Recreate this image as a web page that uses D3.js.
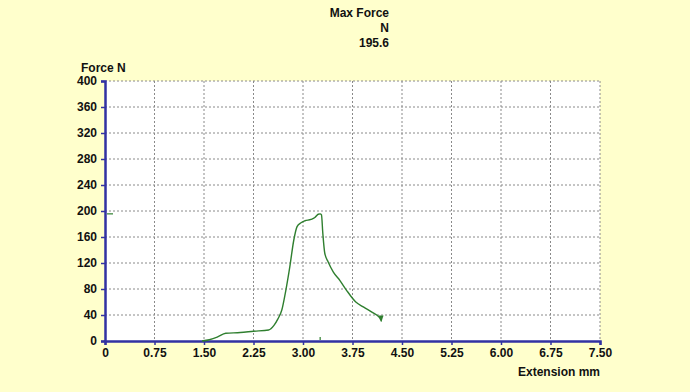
<!DOCTYPE html>
<html>
<head>
<meta charset="utf-8">
<script src="https://cdn.jsdelivr.net/npm/d3@7"></script>
<style>
  body { margin: 0; background: #ffffcc; }
  svg { display: block; }
  text { font-family: "Liberation Sans", Arial, sans-serif; font-weight: bold; font-size: 12px; fill: #111; }
</style>
</head>
<body>
<svg width="690" height="392"></svg>
<script>
// values
var extension = [1.47, 1.58, 1.70, 1.83, 2.05, 2.25, 2.48, 2.56, 2.62, 2.68, 2.74, 2.80, 2.86, 2.91, 2.97, 3.03, 3.12, 3.18, 3.23, 3.26, 3.28, 3.30, 3.33, 3.38, 3.46, 3.56, 3.66, 3.80, 3.92, 4.05, 4.16, 4.19];
var force = [0, 2, 6, 12, 13, 15, 17, 24, 34, 48, 78, 114, 155, 176, 182, 185, 187, 190, 195, 195.6, 194, 166, 135, 122, 106, 93, 78, 60, 52, 44, 36, 30];
var xTicks = [0, 0.75, 1.5, 2.25, 3, 3.75, 4.5, 5.25, 6, 6.75, 7.5];
var yTicks = [0, 40, 80, 120, 160, 200, 240, 280, 320, 360, 400];
var maxForce = 195.6;

var drawChart = function() {
  let svg = d3.select("svg");

  let margin = { top: 81, right: 90, bottom: 51, left: 105 };
  let plotWidth = 690 - margin.left - margin.right;
  let plotHeight = 392 - margin.top - margin.bottom;

  let xScale = d3.scaleLinear().domain([0, 7.5]).range([0, plotWidth]);
  let yScale = d3.scaleLinear().domain([0, 400]).range([plotHeight, 0]);

  let plot = svg.append("g")
    .attr("transform", "translate(" + margin.left + "," + margin.top + ")");

  // white plot area
  plot.append("rect")
    .attr("width", plotWidth)
    .attr("height", plotHeight)
    .attr("fill", "#ffffff");

  // dotted gridlines
  plot.append("g")
    .selectAll("line.vg")
    .data(xTicks.slice(1))
    .enter()
    .append("line")
    .attr("x1", d => xScale(d)).attr("x2", d => xScale(d))
    .attr("y1", 0).attr("y2", plotHeight)
    .attr("stroke", "#8a8a8a")
    .attr("stroke-dasharray", "2,2");

  plot.append("g")
    .selectAll("line.hg")
    .data(yTicks.slice(1))
    .enter()
    .append("line")
    .attr("x1", 0).attr("x2", plotWidth)
    .attr("y1", d => yScale(d)).attr("y2", d => yScale(d))
    .attr("stroke", "#8a8a8a")
    .attr("stroke-dasharray", "2,2");

  // axes
  let xAxis = d3.axisBottom(xScale)
    .tickValues(xTicks)
    .tickSize(4)
    .tickFormat(d => d === 0 ? "0" : d3.format(".2f")(d));
  let yAxis = d3.axisLeft(yScale)
    .tickValues(yTicks)
    .tickSize(4);

  let xGroup = plot.append("g")
    .attr("transform", "translate(0," + plotHeight + ")")
    .call(xAxis);
  let yGroup = plot.append("g").call(yAxis);

  [xGroup, yGroup].forEach(function(g) {
    g.select(".domain").attr("stroke", "#3232a2").attr("stroke-width", 2.5);
    g.selectAll(".tick line").attr("stroke", "#3232a2").attr("stroke-width", 1.5);
    g.selectAll(".tick text")
      .style("font-family", "'Liberation Sans', Arial, sans-serif")
      .style("font-weight", "bold")
      .style("font-size", "12px")
      .attr("fill", "#111");
  });
  xGroup.selectAll(".tick text").attr("y", 7);
  yGroup.selectAll(".tick text").attr("x", -8);

  // the force curve
  let points = extension.map((e, i) => [e, force[i]]);
  let line = d3.line()
    .curve(d3.curveMonotoneX)
    .x(d => xScale(d[0]))
    .y(d => yScale(d[1]));

  plot.append("path")
    .datum(points)
    .attr("d", line)
    .attr("fill", "none")
    .attr("stroke", "#2f7f2f")
    .attr("stroke-width", 1.4);

  // small end marker
  let last = points[points.length - 1];
  let lx = xScale(last[0]), ly = yScale(last[1]);
  plot.append("path")
    .attr("d", "M" + (lx - 3) + "," + (ly - 6) + "L" + (lx + 2) + "," + (ly - 6) + "L" + lx + "," + ly + "Z")
    .attr("fill", "#2f7f2f");

  // max force markers
  let peakExt = extension[force.indexOf(maxForce)];
  plot.append("line")
    .attr("x1", 2).attr("x2", 8)
    .attr("y1", yScale(maxForce)).attr("y2", yScale(maxForce))
    .attr("stroke", "#2f7f2f").attr("stroke-width", 1.2);
  plot.append("line")
    .attr("x1", xScale(peakExt)).attr("x2", xScale(peakExt))
    .attr("y1", plotHeight - 4).attr("y2", plotHeight - 1)
    .attr("stroke", "#2f7f2f").attr("stroke-width", 1.2);

  // titles
  let title = svg.append("text")
    .attr("x", 389)
    .style("text-anchor", "end");
  title.append("tspan").attr("x", 389).attr("y", 17).text("Max Force");
  title.append("tspan").attr("x", 389).attr("y", 31.5).text("N");
  title.append("tspan").attr("x", 389).attr("y", 46.5).text(maxForce.toFixed(1));

  svg.append("text")
    .attr("x", 81)
    .attr("y", 71.5)
    .text("Force N");

  svg.append("text")
    .attr("x", 600)
    .attr("y", 376)
    .style("text-anchor", "end")
    .text("Extension mm");
};

drawChart();
</script>
</body>
</html>
